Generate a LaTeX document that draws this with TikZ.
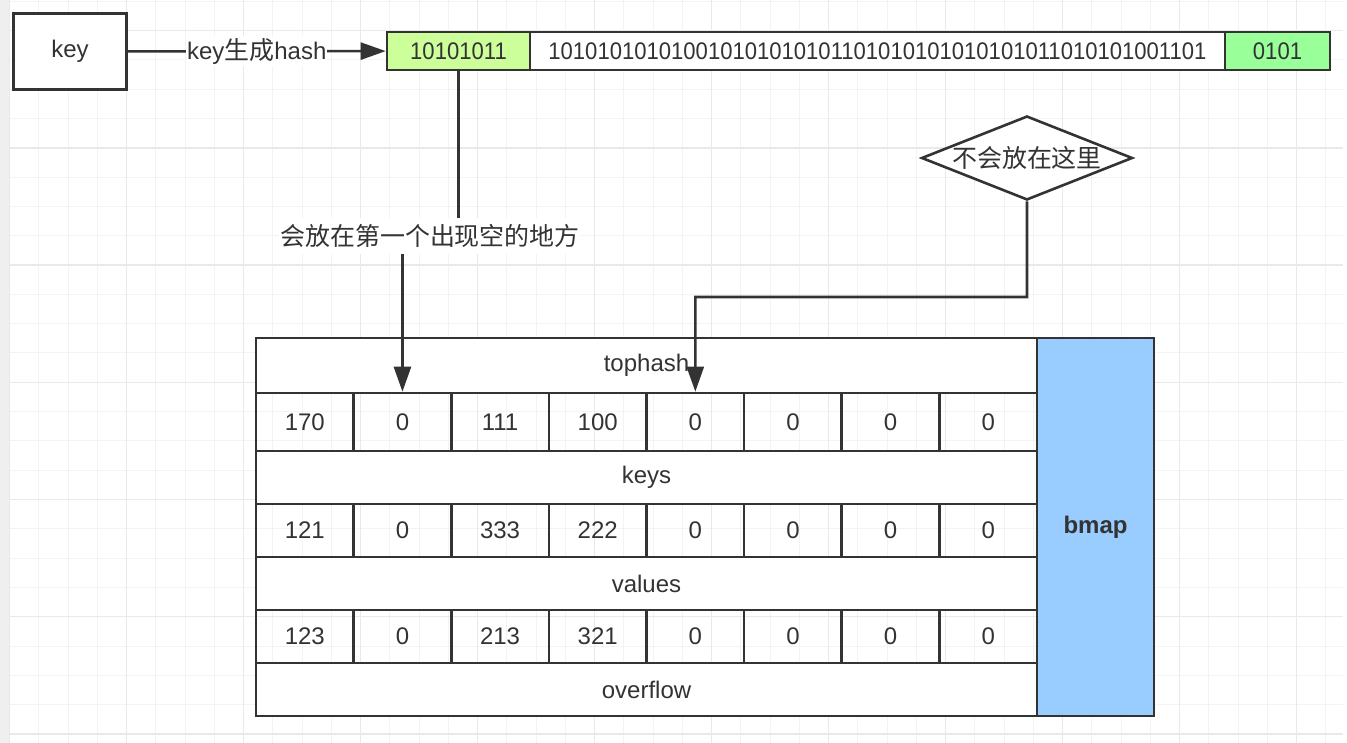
\documentclass[tikz,border=0pt]{standalone}
\usepackage{fontspec}
\setmainfont{Liberation Sans}
\newfontfamily\cjk[Scale=1.04]{Noto Sans CJK SC}
\newfontfamily\bitfont[FakeStretch=0.92]{Liberation Sans}
\usetikzlibrary{arrows.meta,shapes.geometric}

\definecolor{linec}{HTML}{333333}
\definecolor{limefill}{HTML}{CCFF99}
\definecolor{greenfill}{HTML}{99FF99}
\definecolor{bluefill}{HTML}{99CCFF}
\definecolor{gridc}{HTML}{F3F3F3}
\definecolor{gridmaj}{HTML}{E9E9E9}
\definecolor{stripc}{HTML}{EFEFEF}

\tikzset{
  txt/.style={text=linec, font=\fontsize{24}{28}\selectfont},
  box/.style={txt, draw=linec, line width=2.6pt, inner sep=0pt},
  cell/.style={box, minimum width=97.6pt},
  rowbar/.style={box, minimum width=781pt},
  lab/.style={txt, fill=white, inner xsep=1pt, inner ysep=6pt},
  conn/.style={draw=linec, line width=2.6pt, -{Triangle[length=25pt,width=17pt]}},
  minorline/.style={draw=gridc, line width=1pt},
  majorline/.style={draw=gridmaj, line width=1.4pt}
}

\begin{document}
\begin{tikzpicture}[x=1pt,y=-1pt]

\useasboundingbox (0,0) rectangle (1347,743);

% Background grid
\fill[stripc] (0,0) rectangle (9.7,743);
\foreach \k in {0,...,45}
  \draw[minorline] ({9.7+29.25*\k},0) -- ({9.7+29.25*\k},743);
\foreach \k in {0,...,25}
  \draw[minorline] (9.7,{1.4+29.3*\k}) -- (1343,{1.4+29.3*\k});
\foreach \k in {0,...,11}
  \draw[majorline] ({9.7+117*\k},0) -- ({9.7+117*\k},743);
\foreach \k in {0,...,6}
  \draw[majorline] (9.7,{30.7+117.2*\k}) -- (1343,{30.7+117.2*\k});

% Key and hash bits
\node[box, fill=white, minimum width=113pt, minimum height=76pt] (key) at (70,51.5) {key};
\node[box, fill=limefill, minimum width=143pt, minimum height=38pt] (h1) at (458.5,51) {\bitfont 10101011};
\node[box, fill=white, minimum width=695pt, minimum height=38pt] (h2) at (877.5,51) {\bitfont 101010101010010101010101101010101010101011010101001101};
\node[box, fill=greenfill, minimum width=105pt, minimum height=38pt] (h3) at (1277.5,51) {\bitfont 0101};

% Decision
\node[box, diamond, aspect=2.5, fill=white, minimum width=211pt, minimum height=84pt] (notHere) at (1027,158) {\cjk 不会放在这里};

% Bucket rows
\node[rowbar, fill=white, minimum height=55pt] (tophash) at (646.5,365.5) {tophash};
\node[rowbar, fill=white, minimum height=53pt] (keys) at (646.5,477.5) {keys};
\node[rowbar, fill=white, minimum height=53pt] (vals) at (646.5,583.5) {values};
\node[rowbar, fill=white, minimum height=53pt] (overflow) at (646.5,689.5) {overflow};

% Bucket cells
\foreach \v [count=\i] in {170,0,111,100,0,0,0,0}
  \node[cell, minimum height=58pt] (t\i) at ({256+97.625*(\i-0.5)},422) {\v};
\foreach \v [count=\i] in {121,0,333,222,0,0,0,0}
  \node[cell, minimum height=53pt] (k\i) at ({256+97.625*(\i-0.5)},530.5) {\v};
\foreach \v [count=\i] in {123,0,213,321,0,0,0,0}
  \node[cell, minimum height=53pt] (v\i) at ({256+97.625*(\i-0.5)},636.5) {\v};

% Overflow bitmap
\node[box, fill=bluefill, minimum width=117pt, minimum height=378pt, font=\fontsize{24}{28}\selectfont\bfseries] (bmap) at (1095.5,527) {bmap};

% Connectors
\draw[conn] (key) -- node[lab, inner ysep=2pt] (hashlab) {key{\cjk 生成}hash} (h1);

\coordinate (bend1) at (430,236);
\draw[conn] (h1.south) |- (bend1) -| (t2.north);
\node[lab] (slotlab) at (bend1) {\cjk 会放在第一个出现空的地方};

\coordinate (bend2) at (695.3,297);
\draw[conn] (notHere.south) |- (bend2) -- (t5.north);

\end{tikzpicture}
\end{document}
